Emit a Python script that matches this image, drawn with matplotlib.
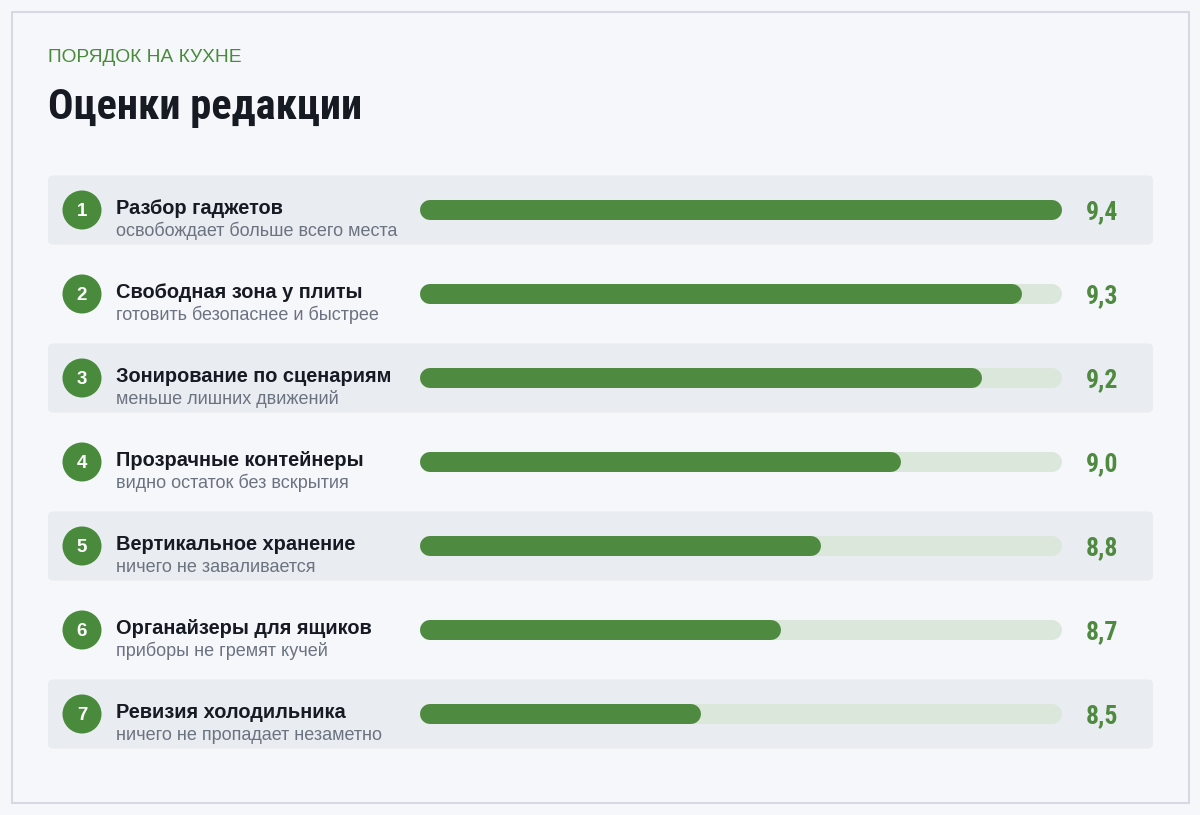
import matplotlib
matplotlib.use("Agg")
import matplotlib.pyplot as plt
from matplotlib.patches import FancyBboxPatch, Circle, Rectangle
from matplotlib import font_manager

# ---- data ----
kicker = "ПОРЯДОК НА КУХНЕ"
title = "Оценки редакции"
labels = ["Разбор гаджетов", "Свободная зона у плиты", "Зонирование по сценариям",
          "Прозрачные контейнеры", "Вертикальное хранение", "Органайзеры для ящиков",
          "Ревизия холодильника"]
notes = ["освобождает больше всего места", "готовить безопаснее и быстрее",
         "меньше лишних движений", "видно остаток без вскрытия",
         "ничего не заваливается", "приборы не гремят кучей",
         "ничего не пропадает незаметно"]
scores = [9.4, 9.3, 9.2, 9.0, 8.8, 8.7, 8.5]
score_min, score_max = 7.8, 9.4

# ---- style ----
BG = "#f5f7fa"
FRAME = "#d5d9e1"
BAND = "#e9ecf0"
GREEN = "#4e8a3f"
TRACK = "#dce7dc"
DARK = "#161a22"
GREY = "#6b7280"
FONT = ["Liberation Sans", "DejaVu Sans"]

installed = {f.name for f in font_manager.fontManager.ttflist}
condensed = None
for cand in ["Roboto Condensed", "Liberation Sans Narrow", "Arial Narrow", "DejaVu Sans Condensed"]:
    if cand in installed:
        condensed = cand
        break

W, H = 1200, 815
fig = plt.figure(figsize=(W / 100, H / 100), dpi=100, facecolor=BG)

bg = fig.add_axes([0, 0, 1, 1])
bg.set_xlim(0, W)
bg.set_ylim(H, 0)
bg.axis("off")
bg.add_patch(Rectangle((11.5, 11.5), 1177, 791, facecolor=BG, edgecolor=FRAME, lw=1.5))

if condensed:
    TFONT = [condensed, "Liberation Sans", "DejaVu Sans"]
    t_size, v_size = 30.5, 18.5
else:
    TFONT = FONT
    t_size, v_size = 26, 16

bg.text(48, 62, kicker, color="#4a8a3c", fontsize=13.8, family=FONT, va="baseline", ha="left")
bg.text(48, 119, title, color=DARK, fontsize=t_size, fontweight="bold", family=TFONT,
        va="baseline", ha="left")

row0, row_h = 210, 84
n = len(labels)
for i in range(n):
    yc = row0 + row_h * i
    if i % 2 == 0:
        bg.add_patch(FancyBboxPatch((48, yc - 34.5), 1105, 69,
                                    boxstyle="round,pad=0,rounding_size=5",
                                    facecolor=BAND, edgecolor="none"))
    bg.add_patch(Circle((82, yc), 19.5, facecolor="#4a8a3c", edgecolor="none"))
    bg.text(82, yc + 1, str(i + 1), color="white", fontsize=13.5, fontweight="bold",
            family=FONT, ha="center", va="center")
    bg.text(116, yc + 4, labels[i], color=DARK, fontsize=14.4, fontweight="bold",
            family=FONT, ha="left", va="baseline")
    bg.text(116, yc + 26, notes[i], color=GREY, fontsize=13, family=FONT,
            ha="left", va="baseline")
    bg.text(1086, yc + 9, f"{scores[i]:.1f}".replace(".", ","), color=GREEN,
            fontsize=v_size, fontweight="bold", family=TFONT, ha="left", va="baseline")

# bar axes: data scale
x0_px, x1_px = 420, 1062
top_px = row0 - row_h / 2
ax = fig.add_axes([x0_px / W, 1 - (top_px + row_h * n) / H, (x1_px - x0_px) / W, row_h * n / H])
ax.set_xlim(score_min, score_max)
ax.set_ylim(n - 0.5, -0.5)
ax.axis("off")
ax.patch.set_alpha(0)

bar_px = 20
lw_pt = bar_px * 72 / 100
cap = bar_px / 2 * (score_max - score_min) / (x1_px - x0_px)
for i, v in enumerate(scores):
    ax.plot([score_min + cap, score_max - cap], [i, i], color=TRACK, lw=lw_pt,
            solid_capstyle="round")
    ax.plot([score_min + cap, v - cap], [i, i], color=GREEN, lw=lw_pt,
            solid_capstyle="round")

fig.savefig("out.png", dpi=100, facecolor=BG)
